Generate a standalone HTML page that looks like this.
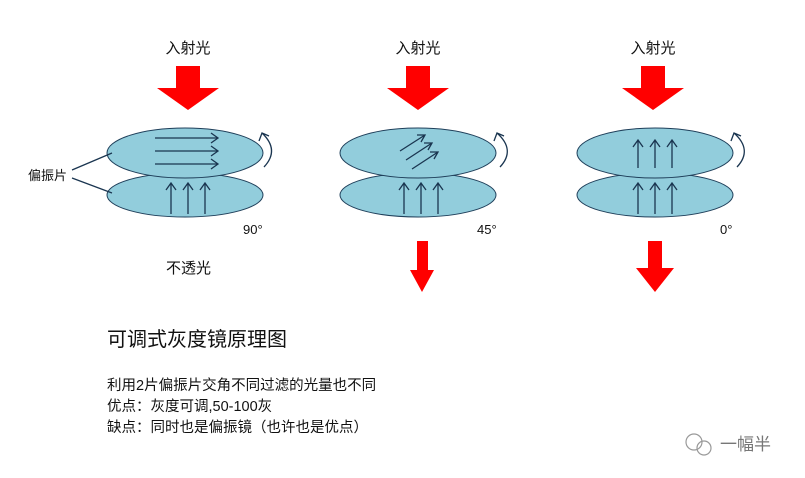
<!DOCTYPE html>
<html><head><meta charset="utf-8"><style>
body{margin:0;background:#fff;}
svg{display:block;font-family:"Liberation Sans","Noto Sans CJK SC",sans-serif;}
</style></head><body>
<svg width="805" height="478" viewBox="0 0 805 478">
<defs>
<marker id="a" markerWidth="8" markerHeight="8" refX="4" refY="1" orient="auto" markerUnits="userSpaceOnUse"></marker>
</defs>
<g fill="#111" font-size="15" text-anchor="middle">
<text x="188" y="53">入射光</text>
<text x="418" y="53">入射光</text>
<text x="653" y="53">入射光</text>
</g>
<g fill="#f00">
<polygon points="176,66 200,66 200,88 219,88 188,110 157,88 176,88"/>
<polygon points="406,66 430,66 430,88 449,88 418,110 387,88 406,88"/>
<polygon points="641,66 665,66 665,88 684,88 653,110 622,88 641,88"/>
<polygon points="417,241 428,241 428,270 434,270 422,292 410,270 417,270"/>
<polygon points="648,241 662,241 662,268 674,268 655,292 636,268 648,268"/>
</g>
<g fill="#92cddc" stroke="#1f3f5a" stroke-width="1">
<ellipse cx="185" cy="195" rx="78" ry="22"/>
<ellipse cx="185" cy="153" rx="78" ry="25"/>
<ellipse cx="418" cy="195" rx="78" ry="22"/>
<ellipse cx="418" cy="153" rx="78" ry="25"/>
<ellipse cx="655" cy="195" rx="78" ry="22"/>
<ellipse cx="655" cy="153" rx="78" ry="25"/>
</g>
<g stroke="#1a3550" stroke-width="1.3" fill="none">
<!-- panel1 up arrows -->
<path d="M171,214V183M166,190L171,183L176,190"/>
<path d="M188,214V183M183,190L188,183L193,190"/>
<path d="M205,214V183M200,190L205,183L210,190"/>
<!-- horizontal -->
<path d="M155,138H218M211,133L218,138L211,143"/>
<path d="M155,151H218M211,146L218,151L211,156"/>
<path d="M155,164H218M211,159L218,164L211,169"/>
<!-- panel2 -->
<path d="M404,214V183M399,190L404,183L409,190"/>
<path d="M421,214V183M416,190L421,183L426,190"/>
<path d="M438,214V183M433,190L438,183L443,190"/>
<path d="M400,151L425,135M417,135L425,135L421,142"/>
<path d="M406,160L432,143M424,143L432,143L428,150"/>
<path d="M412,169L438,152M430,152L438,152L434,159"/>
<!-- panel3 -->
<path d="M638,168V140M633,147L638,140L643,147"/>
<path d="M655,168V140M650,147L655,140L660,147"/>
<path d="M672,168V140M667,147L672,140L677,147"/>
<path d="M638,214V183M633,190L638,183L643,190"/>
<path d="M655,214V183M650,190L655,183L660,190"/>
<path d="M672,214V183M667,190L672,183L677,190"/>
<!-- rotation arcs -->
<path d="M264,167Q280,150 262,133M259,141L262,133L269,136"/>
<path d="M500,167Q516,150 497,133M494,141L497,133L504,136"/>
<path d="M737,167Q753,150 734,133M731,141L734,133L741,136"/>
<!-- labels -->
<path d="M72,170L112,153M72,178L112,193"/>
</g>
<g fill="#111" font-size="13">
<text x="28" y="180">偏振片</text>
<text x="243" y="234">90°</text>
<text x="477" y="234">45°</text>
<text x="720" y="234">0°</text>
<text x="166" y="273" font-size="15">不透光</text>
</g>
<text x="107" y="346" font-size="20" fill="#111">可调式灰度镜原理图</text>
<g fill="#111" font-size="14.5">
<text x="107" y="390">利用2片偏振片交角不同过滤的光量也不同</text>
<text x="107" y="411">优点：灰度可调,50-100灰</text>
<text x="107" y="432">缺点：同时也是偏振镜（也许也是优点）</text>
</g>
<g stroke="#999" fill="none" stroke-width="1.2">
<circle cx="694" cy="442" r="8"/><circle cx="704" cy="448" r="7"/>
</g>
<text x="720" y="450" font-size="17" fill="#777">一幅半</text>
</svg>
</body></html>
